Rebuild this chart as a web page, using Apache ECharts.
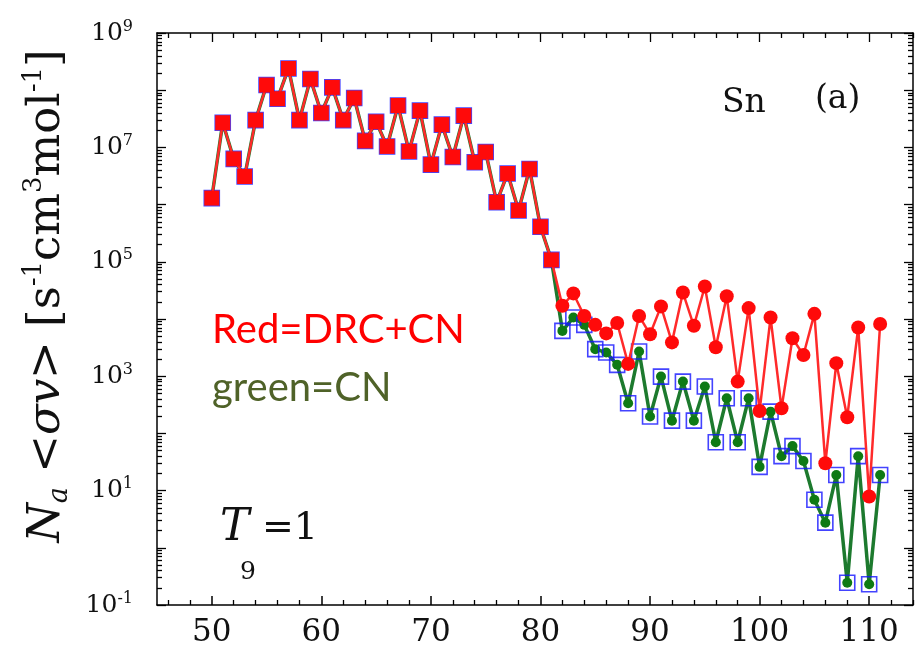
<!DOCTYPE html>
<html>
<head>
<meta charset="utf-8">
<script src="https://cdn.jsdelivr.net/npm/echarts@6.0.0/dist/echarts.min.js"></script>
<style>
html,body{margin:0;padding:0;background:#fff;}
#chart{width:923px;height:653px;}
</style>
</head>
<body>
<div id="chart"></div>
<script>
// ---------- data ----------
const massNumbers = [50,51,52,53,54,55,56,57,58,59,60,61,62,63,64,65,66,67,68,69,70,71,72,73,74,75,76,77,78,79,80,
  81,82,83,84,85,86,87,88,89,90,91,92,93,94,95,96,97,98,99,100,101,102,103,104,105,106,107,108,109,110,111];

// Red = DRC + CN
const redValues = [1.3e6,2.7e7,6.3e6,3.1e6,3.0e7,1.23e8,7.1e7,2.4e8,3.0e7,1.57e8,4.0e7,
  1.12e8,3.0e7,7.3e7,1.3e7,2.8e7,1.04e7,5.4e7,8.5e6,4.4e7,5.0e6,
  2.5e7,6.8e6,3.6e7,5.5e6,8.3e6,1.1e6,3.5e6,7.9e5,4.2e6,4.1e5,
  1.08e5,1.7e4,2.8e4,1.13e4,7.9e3,5.6e3,8.5e3,1.64e3,1.13e4,5.4e3,
  1.66e4,3.9e3,2.9e4,7.6e3,3.7e4,3.2e3,2.5e4,805,1.55e4,247,
  1.06e4,275,4.6e3,2.35e3,1.23e4,30,1.69e3,192,7.1e3,7.9,8.2e3];

// green = CN
const greenValues = [1.3e6,2.7e7,6.3e6,3.1e6,3.0e7,1.23e8,7.1e7,2.4e8,3.0e7,1.57e8,4.0e7,
  1.12e8,3.0e7,7.3e7,1.3e7,2.8e7,1.04e7,5.4e7,8.5e6,4.4e7,5.0e6,
  2.5e7,6.8e6,3.6e7,5.5e6,8.3e6,1.1e6,3.5e6,7.9e5,4.2e6,4.1e5,
  1.08e5,6.2e3,1.06e4,7.9e3,2.97e3,2.6e3,1.58e3,337,2.7e3,197,
  985,167,805,167,660,70,412,70,412,26,
  240,40,60,33,6.9,2.75,18.7,0.245,40,0.23,18.7];

const lastSquareMass = 81;   // red markers are squares up to here, circles after

const xMajorTicks = [50,60,70,80,90,100,110];
const xMinorTicks = [46,48,52,54,56,58,62,64,66,68,72,74,76,78,82,84,86,88,92,94,96,98,102,104,106,108,112,114];
const yDecades = [-1,0,1,2,3,4,5,6,7,8,9];
const yMinorFactors = [2,3,4,5,6,7,8,9];

// ---------- build ----------
const redData = massNumbers.map((m, i) => ({
  value: [m, redValues[i]],
  symbol: m <= lastSquareMass ? 'rect' : 'circle',
  symbolSize: m <= lastSquareMass ? 15 : 14
}));
const greenData = massNumbers.map((m, i) => [m, greenValues[i]]);

const yMinorTicks = [];
yDecades.slice(0, -1).forEach(d => yMinorFactors.forEach(f => yMinorTicks.push(d + Math.log10(f))));

const black = '#000';
const serif = 'DejaVu Serif';

function tickAxis(kind, position, values, len, showLine) {
  const base = kind === 'x' ? {min:45, max:114} : {min:-1, max:9};
  return Object.assign({
    type: 'value',
    position: position,
    splitLine: {show:false},
    axisLabel: {show:false},
    axisLine: {show: !!showLine, onZero:false, lineStyle:{color:black, width:1.5}},
    axisTick: {show:true, inside:true, length:len, customValues: values, lineStyle:{color:black, width:1.3}}
  }, base);
}

const chart = echarts.init(document.getElementById('chart'), null, {renderer:'canvas'});
chart.setOption({
  animation: false,
  backgroundColor: '#fff',
  grid: {left:157, right:10, top:33, bottom:48},
  xAxis: [
    {
      type:'value', position:'bottom', min:45, max:114,
      splitLine:{show:false},
      axisLine:{show:true, onZero:false, lineStyle:{color:black, width:1.5}},
      axisTick:{show:true, inside:true, length:9, customValues:xMajorTicks, lineStyle:{color:black, width:1.5}},
      axisLabel:{customValues:xMajorTicks, fontSize:31, fontFamily:serif, color:'#111', margin:12}
    },
    tickAxis('x','bottom', xMinorTicks, 5, false),
    tickAxis('x','top', xMajorTicks, 9, true),
    tickAxis('x','top', xMinorTicks, 5, false)
  ],
  yAxis: [
    {
      type:'log', logBase:10, min:0.1, max:1e9, interval:2, splitNumber:5, position:'left',
      splitLine:{show:false},
      axisLine:{show:true, onZero:false, lineStyle:{color:black, width:1.5}},
      axisTick:{show:false},
      minorTick:{show:false},
      axisLabel:{
        margin:24,
        formatter: v => '{b|10}{s|' + Math.round(Math.log10(v)) + '}',
        rich:{
          b:{fontSize:25, fontFamily:serif, color:'#111'},
          s:{fontSize:16, fontFamily:serif, color:'#111', padding:[0,0,13,0]}
        }
      }
    },
    tickAxis('y','left', yDecades, 9, false),
    tickAxis('y','left', yMinorTicks, 5, false),
    tickAxis('y','right', yDecades, 9, true),
    tickAxis('y','right', yMinorTicks, 5, false)
  ],
  series: [
    {
      name:'CN', type:'line', xAxisIndex:0, yAxisIndex:0, z:2,
      data: greenData,
      symbol:'circle', symbolSize:10,
      itemStyle:{color:'#0e7a14'},
      lineStyle:{color:'#1d7a2e', width:3.5}
    },
    {
      name:'CN squares', type:'scatter', xAxisIndex:0, yAxisIndex:0, z:3,
      data: greenData,
      symbol:'rect', symbolSize:15,
      itemStyle:{color:'rgba(0,0,0,0)', borderColor:'#1414ff', borderWidth:1.6}
    },
    {
      name:'DRC+CN', type:'line', xAxisIndex:0, yAxisIndex:0, z:5,
      data: redData,
      itemStyle:{color:'#ff0a0a'},
      lineStyle:{color:'#ff2a2a', width:2.5}
    }
  ],
  graphic: [
    {
      type:'text', x:47, y:296, rotation:Math.PI/2,
      style:{
        text:'{i|N}{sub|a}{n| <}{i|σv}{n|> [s}{sup|-1}{n|cm}{sup|3}{n|mol}{sup|-1}{n|]}',
        align:'center', verticalAlign:'middle',
        rich:{
          n:{fontSize:45, fontFamily:serif, fill:'#111'},
          i:{fontSize:45, fontFamily:serif, fontStyle:'italic', fill:'#111'},
          sub:{fontSize:27, fontFamily:serif, fontStyle:'italic', fill:'#111', padding:[25,0,0,0]},
          sup:{fontSize:26, fontFamily:serif, fill:'#111', padding:[0,0,25,0]}
        }
      }
    },
    {type:'text', left:722, top:87, style:{text:'Sn', fontSize:33, fontFamily:serif, fill:'#111'}},
    {type:'text', left:815, top:83, style:{text:'(a)', fontSize:33, fontFamily:serif, fill:'#111'}},
    {type:'text', left:212, top:310, style:{text:'Red=DRC+CN', fontSize:40, fontFamily:'Lato', fill:'#ff0000'}},
    {type:'text', left:212, top:368, style:{text:'green=CN', fontSize:40, fontFamily:'Lato', fill:'#4f6228'}},
    {type:'text', left:220, top:507, style:{text:'T', fontSize:44, fontFamily:serif, fontStyle:'italic', fill:'#111'}},
    {type:'text', left:240, top:560, style:{text:'9', fontSize:25, fontFamily:serif, fill:'#111'}},
    {type:'text', left:262, top:510, style:{text:'=1', fontSize:38, fontFamily:serif, fill:'#111'}}
  ]
});
</script>
</body>
</html>
